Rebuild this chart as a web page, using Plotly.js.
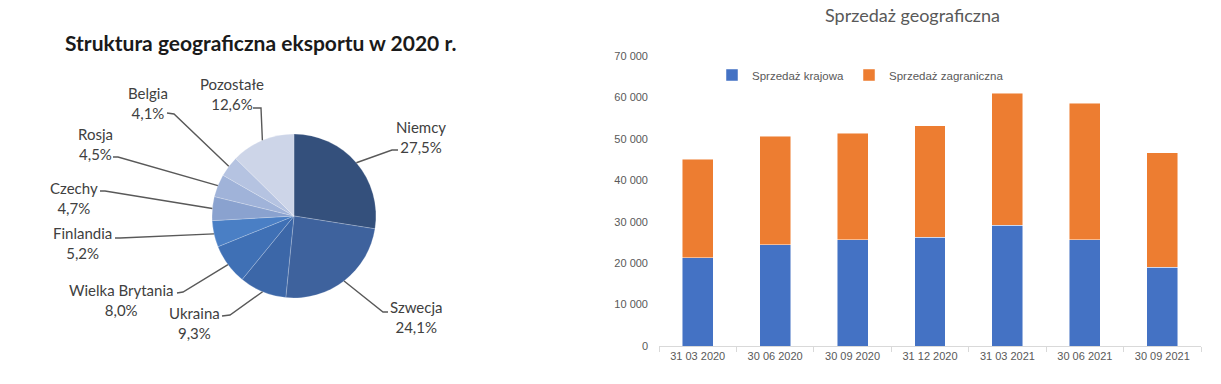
<!DOCTYPE html>
<html>
<head>
<meta charset="utf-8">
<script src="https://cdn.plot.ly/plotly-3.0.1.min.js"></script>
<style>html,body{margin:0;padding:0;background:#fff}#chart{width:1221px;height:384px}</style>
</head>
<body>
<div id="chart"></div>
<script>
// ---- data ----
const pieTitle = 'Struktura geograficzna eksportu w 2020 r.';
const pieLabels = ['Niemcy', 'Szwecja', 'Ukraina', 'Wielka Brytania', 'Finlandia', 'Czechy', 'Rosja', 'Belgia', 'Pozostałe'];
const pieValues = [27.5, 24.1, 9.3, 8.0, 5.2, 4.7, 4.5, 4.1, 12.6];

const barTitle = 'Sprzedaż geograficzna';
const barCategories = ['31 03 2020', '30 06 2020', '30 09 2020', '31 12 2020', '31 03 2021', '30 06 2021', '30 09 2021'];
const domesticName = 'Sprzedaż krajowa';
const foreignName = 'Sprzedaż zagraniczna';
const domesticSales = [21300, 24500, 25600, 26200, 29100, 25600, 19000];
const foreignSales = [23800, 26100, 25800, 27000, 31900, 33000, 27600];
const yTickValues = [0, 10000, 20000, 30000, 40000, 50000, 60000, 70000];

// ---- style / layout ----
const W = 1221, H = 384;
const px = x => x / W;
const py = y => 1 - y / H;
const PIE_CX = 294, PIE_CY = 216, PIE_R = 82;
const pieColors = ['#34507c', '#3e629d', '#3c67a8', '#3f70b5', '#4a7fc5', '#8aa2cf', '#a0b3d9', '#b5c3e1', '#cdd5e8'];
// label centre [x, y] and leader path elbow / end points (pixels)
const labelPlacement = [
  {tx: 421, ty: 137, elbow: [392, 150], end: [398, 150]},
  {tx: 416, ty: 317, elbow: [383, 312], end: [388, 312]},
  {tx: 194, ty: 323, elbow: [230, 315], end: [222, 316]},
  {tx: 121, ty: 300, elbow: [183, 292], end: [177, 293]},
  {tx: 83,  ty: 243, elbow: [120, 238], end: [115, 238]},
  {tx: 74,  ty: 198, elbow: [105, 191], end: [100, 191]},
  {tx: 95,  ty: 144, elbow: [118, 157], end: [113, 157]},
  {tx: 148, ty: 103, elbow: [174, 114], end: [167, 113]},
  {tx: 232, ty: 94,  elbow: [261, 108], end: [253, 108]}
];

const axisFont = {family: '"Liberation Sans", Arial, sans-serif', size: 11, color: '#595959'};

const pieTrace = {
  type: 'pie',
  labels: pieLabels,
  values: pieValues,
  sort: false,
  direction: 'clockwise',
  rotation: 0,
  textinfo: 'none',
  hoverinfo: 'label+percent',
  showlegend: false,
  marker: {colors: pieColors, line: {color: 'rgba(255,255,255,0.35)', width: 0.6}},
  domain: {x: [px(PIE_CX - PIE_R), px(PIE_CX + PIE_R)], y: [py(PIE_CY + PIE_R), py(PIE_CY - PIE_R)]}
};

const barDomestic = {
  type: 'bar', x: barCategories, y: domesticSales, name: domesticName,
  marker: {color: '#4472c4', line: {color: 'rgba(255,255,255,0.6)', width: 0.8}},
  xaxis: 'x', yaxis: 'y'
};
const barForeign = {
  type: 'bar', x: barCategories, y: foreignSales, name: foreignName,
  marker: {color: '#ed7d31', line: {color: 'rgba(255,255,255,0.6)', width: 0.8}},
  xaxis: 'x', yaxis: 'y'
};

// leader lines and labels from slice mid-angles
const total = pieValues.reduce((a, b) => a + b, 0);
const shapes = [];
const annotations = [];
let cum = 0;
pieValues.forEach((v, i) => {
  const mid = (cum + v / 2) / total * 2 * Math.PI;
  cum += v;
  const ax = PIE_CX + PIE_R * Math.sin(mid);
  const ay = PIE_CY - PIE_R * Math.cos(mid);
  const p = labelPlacement[i];
  shapes.push({
    type: 'path', xref: 'paper', yref: 'paper',
    path: `M${px(ax)},${py(ay)} L${px(p.elbow[0])},${py(p.elbow[1])} L${px(p.end[0])},${py(p.end[1])}`,
    line: {color: '#595959', width: 1.4}
  });
  annotations.push({
    xref: 'paper', yref: 'paper', x: px(p.tx), y: py(p.ty),
    xanchor: 'center', yanchor: 'middle', showarrow: false, align: 'center',
    text: pieLabels[i] + '<br>' + v.toFixed(1).replace('.', ',') + '%',
    font: {family: 'Lato, sans-serif', size: 15, color: '#404040'}
  });
});
annotations.push({
  xref: 'paper', yref: 'paper', x: px(260), y: py(42), xanchor: 'center', yanchor: 'middle',
  showarrow: false, text: '<b>' + pieTitle + '</b>',
  font: {family: 'Lato, sans-serif', size: 21, color: '#1a1a1a'}
});
annotations.push({
  xref: 'paper', yref: 'paper', x: px(912), y: py(15), xanchor: 'center', yanchor: 'middle',
  showarrow: false, text: barTitle,
  font: {family: 'Lato, sans-serif', size: 18, color: '#595959'}
});

const layout = {
  width: W, height: H,
  margin: {l: 0, r: 0, t: 0, b: 0},
  paper_bgcolor: '#fff', plot_bgcolor: '#fff',
  separators: ', ',
  barmode: 'stack',
  bargap: 0.6,
  showlegend: true,
  legend: {
    orientation: 'h', x: px(712), y: py(75), xanchor: 'left', yanchor: 'middle',
    font: {family: '"Liberation Sans", Arial, sans-serif', size: 11.5, color: '#595959'},
    itemwidth: 30, traceorder: 'normal', bgcolor: 'rgba(0,0,0,0)'
  },
  xaxis: {
    domain: [px(659), px(1201)], anchor: 'y', type: 'category',
    showline: true, linecolor: '#d9d9d9', linewidth: 1,
    ticks: 'outside', tickson: 'boundaries', ticklen: 5, tickcolor: '#d9d9d9',
    showgrid: false, zeroline: false, tickfont: axisFont, fixedrange: true
  },
  yaxis: {
    domain: [py(346), py(56)], anchor: 'x', range: [0, 70000],
    tickvals: yTickValues, tickformat: ',d',
    showgrid: false, zeroline: false, showline: false, ticks: '',
    ticklabelstandoff: 10, tickfont: axisFont, fixedrange: true
  },
  shapes: shapes,
  annotations: annotations
};

Plotly.newPlot('chart', [pieTrace, barDomestic, barForeign], layout, {displayModeBar: false, staticPlot: true});
</script>
</body>
</html>
